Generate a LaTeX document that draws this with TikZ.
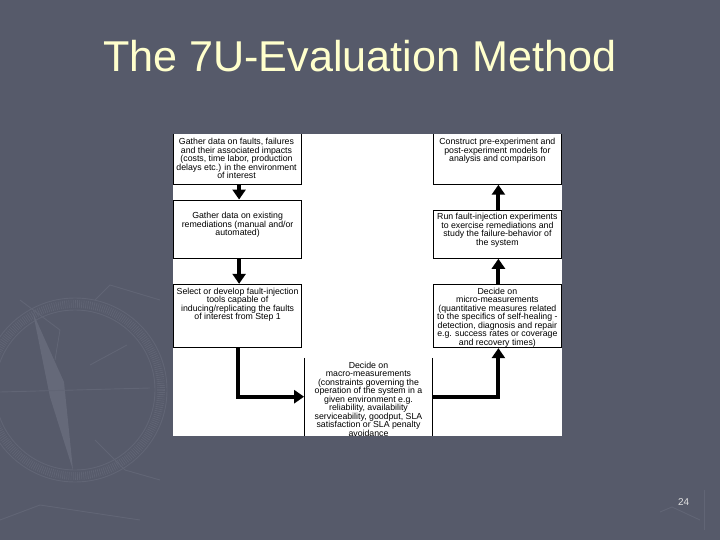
\documentclass[tikz,border=0pt]{standalone}
\usepackage{fontspec}
\setmainfont{Liberation Sans}
\usetikzlibrary{arrows.meta}
\definecolor{slidebg}{RGB}{86,90,106}
\definecolor{wmark}{RGB}{97,101,117}
\definecolor{wmarkfill}{RGB}{101,105,121}
\definecolor{titlecol}{RGB}{255,255,204}
\definecolor{pagecol}{RGB}{225,225,225}
\begin{document}
\begin{tikzpicture}[x=1bp,y=-1bp,
  boxline/.style={draw=black, line width=0.9bp},
  box/.style={boxline, rectangle, inner sep=0pt},
  txt/.style={align=center, inner sep=0pt, anchor=north, text=black,
              font=\fontsize{8.8}{8.5}\selectfont},
  conn/.style={draw=black, line width=4bp, -{Triangle[width=13bp,length=10bp]}},
  wm/.style={draw=wmark, line width=0.9bp}]
% slide background
\fill[slidebg] (0,0) rectangle (720,540);
\useasboundingbox (0,0) rectangle (720,540);
% compass watermark
\draw[wmark, line width=8bp, dash pattern=on 0.7bp off 1.4bp] (75,390) circle (86);
\draw[wm] (75,390) circle (80);
\draw[wm] (75,390) circle (92);
\fill[wmarkfill] (33,313) -- (64,382) -- (73,470) -- (50,397) -- cycle;
\draw[wm] (0,392) -- (150,388);
\draw[wm] (90,365) -- (127,345);
\draw[wm] (20,300) -- (60,330) -- (55,360);
\draw[wm] (95,440) -- (125,470) -- (160,480);
\draw[wm] (0,520) -- (40,505) -- (140,520);
\draw[wm] (95,300) -- (110,285) -- (160,300);
\draw[wm] (660,512) -- (672,507) -- (700,520);
\draw[wm] (704,490) -- (704,530);
% title and page number
\node[anchor=base west, inner sep=0pt, text=titlecol, font=\fontsize{43.3}{48}\selectfont]
  (title) at (103,72) {The 7U-Evaluation Method};
\node[anchor=base west, inner sep=0pt, text=pagecol, font=\fontsize{10}{12}\selectfont]
  (page) at (678,505) {24};
% white panel
\fill[white] (172.5,134.5) rectangle (562,436);
\begin{scope}
\clip (172.5,134.5) rectangle (562,436);
% boxes
\node[box, minimum width=128.2bp, minimum height=52.3bp] (L1) at (237.6,158.15) {};
\node[box, minimum width=128.2bp, minimum height=58.3bp] (L2) at (237.6,229.15) {};
\node[box, minimum width=128.2bp, minimum height=63.4bp] (L3) at (237.6,316) {};
\node[box, minimum width=128.2bp, minimum height=52.3bp] (R1) at (497.4,158.15) {};
\node[box, minimum width=128.2bp, minimum height=48.3bp] (R2) at (497.4,234.15) {};
\node[box, minimum width=128.2bp, minimum height=63.4bp] (R3) at (497.4,316) {};
\node[rectangle, inner sep=0pt, minimum width=128.4bp, minimum height=77.4bp] (M) at (368.5,396.7) {};
\draw[boxline] (M.north west) -- (M.south west);
\draw[boxline] (M.north east) -- (M.south east);
% texts
\node[txt] (tL1) at (236.5,138.4) {Gather data on faults, failures\\and their associated impacts\\(costs, time labor, production\\delays etc.) in the environment\\of interest};
\node[txt] (tL2) at (237.6,212.4) {Gather data on existing\\remediations (manual and/or\\automated)};
\node[txt] (tL3) at (237.6,287.7) {Select or develop fault-injection\\tools capable of\\inducing/replicating the faults\\of interest from Step 1};
\node[txt] (tR1) at (497.4,138.4) {Construct pre-experiment and\\post-experiment models for\\analysis and comparison};
\node[txt] (tR2) at (497.4,213.4) {Run fault-injection experiments\\to exercise remediations and\\study the failure-behavior of\\the system};
\node[txt] (tR3) at (497.4,287.7) {Decide on\\micro-measurements\\(quantitative measures related\\to the specifics of self-healing -\\detection, diagnosis and repair\\e.g. success rates or coverage\\and recovery times)};
\node[txt] (tM) at (368.5,361.7) {Decide on\\macro-measurements\\(constraints governing the\\operation of the system in a\\given environment e.g.\\reliability, availability\\serviceability, goodput, SLA\\satisfaction or SLA penalty\\avoidance};
% connectors
\draw[conn] ([xshift=1.5bp]L1.south) -- ([xshift=1.5bp]L2.north);
\draw[conn] ([xshift=1.5bp]L2.south) -- ([xshift=1.5bp]L3.north);
\draw[conn] (L3.south) |- (M.west);
\draw[conn] (M.east) -| ([xshift=1bp]R3.south);
\draw[conn] ([xshift=1bp]R3.north) -- ([xshift=1bp]R2.south);
\draw[conn] ([xshift=1bp]R2.north) -- ([xshift=1bp]R1.south);
\end{scope}
\end{tikzpicture}
\end{document}
